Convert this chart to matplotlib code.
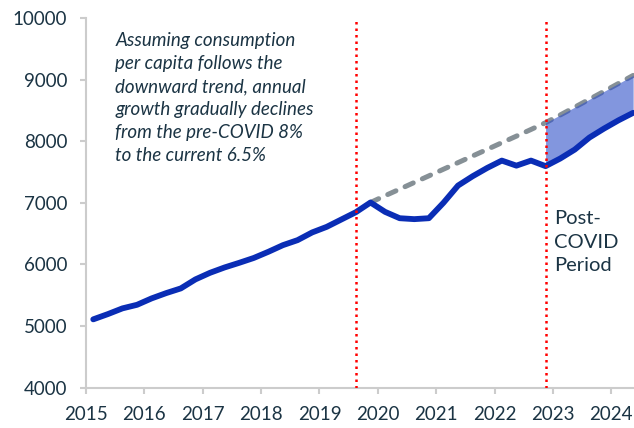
import numpy as np
import pandas as pd
from matplotlib import pyplot as plt

# quarterly consumption per capita, 2015Q1 .. 2024Q2
quarters = pd.period_range("2015Q1", "2024Q2", freq="Q")
actual = [5109, 5194, 5287, 5345, 5449, 5535, 5611, 5757, 5864, 5951,
          6026, 6105, 6205, 6313, 6394, 6519, 6610, 6729, 6848, 7005,
          6853, 6750, 6735, 6750, 7000, 7280, 7431, 7566, 7685, 7603,
          7685, 7595, 7718, 7864, 8058, 8204, 8339, 8460]
# trend line from 2019Q4 onwards
trend_start = "2019Q4"
trend = [7005, 7115, 7222, 7330, 7437, 7545, 7652, 7760, 7867, 7975,
         8082, 8190, 8300, 8425, 8552, 8680, 8808, 8937, 9067]
covid_marks = ["2019Q3", "2022Q4"]
gap_start = "2022Q4"
note = ("Assuming consumption\nper capita follows the\ndownward trend, annual\n"
        "growth gradually declines\nfrom the pre-COVID 8%\nto the current 6.5%")
post_label = "Post-\nCOVID\nPeriod"
years = list(range(2015, 2025))


def qpos(p):
    p = pd.Period(p, freq="Q")
    return p.year + (p.quarter - 1) / 4 + 0.125


plt.rcParams['font.family'] = ['Lato', 'DejaVu Sans']
text_col = '#1b3444'

x = np.array([qpos(q) for q in quarters])
y = np.array(actual)
i0 = list(quarters.astype(str)).index(trend_start)
xt = x[i0:i0 + len(trend)]
yt = np.array(trend)

fig = plt.figure(figsize=(6.34, 4.28), dpi=100)
ax = fig.add_axes([0.1356, 0.0942, 0.8644, 0.8639])

ax.plot(xt, yt, color='#869096', lw=3.6, dashes=(1.8, 2.0),
        dash_capstyle='round', zorder=2)
g0 = list(quarters.astype(str)).index(gap_start)
mask = xt >= x[g0]
ax.fill_between(xt[mask], y[i0:i0 + len(trend)][mask], yt[mask],
                color='#2f50c8', alpha=0.6, lw=0, zorder=3)
ax.plot(x, y, color='#0a2db5', lw=4.2, solid_capstyle='round', zorder=4)

for m in covid_marks:
    ax.vlines(qpos(m), 4000, 9950, colors='#ff0000', lw=1.8,
              linestyles=(0, (1, 1.6)), zorder=5)

ax.text(2015.5, 9770, note, style='italic', fontsize=13.5, color=text_col,
        va='top', ha='left', linespacing=1.42)
ax.text(qpos(gap_start) + 0.14, 6880, post_label, fontsize=14.5,
        color=text_col, va='top', ha='left', linespacing=1.45)

ax.set_xlim(2015, 2024.39)
ax.set_ylim(4000, 10000)
ax.set_xticks(years)
ax.set_xticklabels([str(v) for v in years])
ax.set_yticks(range(4000, 10001, 1000))
for s in ['top', 'right']:
    ax.spines[s].set_visible(False)
for s in ['left', 'bottom']:
    ax.spines[s].set_color('#cccccc')
    ax.spines[s].set_linewidth(1.5)
ax.tick_params(axis='both', colors='#cccccc', width=1.5, length=4.5,
               labelcolor=text_col, labelsize=13.5, pad=9)

fig.savefig('out.png', dpi=100)
